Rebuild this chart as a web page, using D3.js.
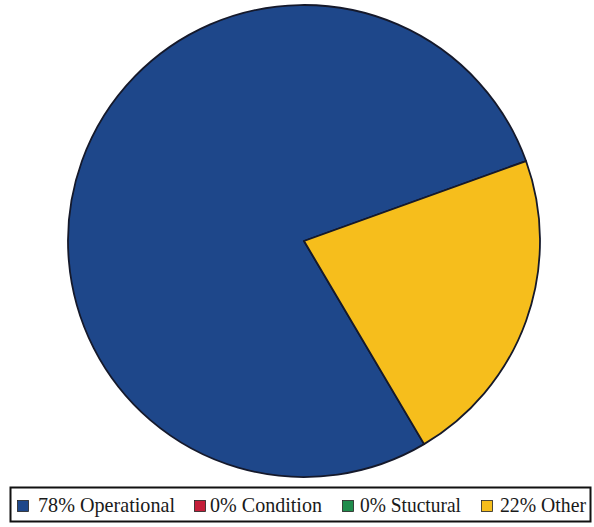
<!DOCTYPE html>
<html>
<head>
<meta charset="utf-8">
<script src="https://d3js.org/d3.v7.min.js"></script>
<style>
  body { margin: 0; background: #fff; }
  svg { display: block; }
</style>
</head>
<body>
<svg id="drawing_region"></svg>
<script>
// chart data
const categories = ['Operational', 'Condition', 'Stuctural', 'Other'];
const percents = [78, 0, 0, 22];
const colors = ['#1e478a', '#c41e3a', '#1f8c4c', '#f6be1c'];

class PieChart {

    constructor( config ) {
        this.config = config;
        this.init();
    }

    init() {
        let self = this;

        self.svg = d3.select( self.config.parent )
            .attr('width', self.config.width)
            .attr('height', self.config.height);

        self.chart = self.svg.append('g')
            .attr('transform', `translate(${self.config.cx}, ${self.config.cy})`);

        self.legend = self.svg.append('g');
    }

    render() {
        let self = this;

        // first slice starts at lower right, drawn clockwise
        const start = 149.4 * Math.PI / 180;
        const pie = d3.pie()
            .sort(null)
            .value( i => percents[i] )
            .startAngle(start)
            .endAngle(start + 2 * Math.PI);

        const arc = d3.arc()
            .innerRadius(0)
            .outerRadius(self.config.radius);

        self.chart.selectAll('path')
            .data( pie(d3.range(categories.length)).filter(d => d.value > 0) )
            .join('path')
            .attr('d', arc)
            .attr('fill', d => colors[d.data])
            .attr('stroke', '#15192b')
            .attr('stroke-width', 1.8)
            .attr('stroke-linejoin', 'round');

        // legend
        self.legend.append('rect')
            .attr('x', 10.5)
            .attr('y', 487.5)
            .attr('width', 580)
            .attr('height', 34)
            .attr('fill', '#fff')
            .attr('stroke', '#111')
            .attr('stroke-width', 2);

        const boxX = [17, 194, 342, 481];
        const textX = [38, 210, 360, 500];
        const textW = [137, 112, 101, 86];

        const items = self.legend.selectAll('g.item')
            .data(d3.range(categories.length))
            .join('g')
            .attr('class', 'item');

        items.append('rect')
            .attr('x', i => boxX[i] + 0.5)
            .attr('y', 500.5)
            .attr('width', 11)
            .attr('height', 11)
            .attr('fill', i => colors[i])
            .attr('stroke', '#222')
            .attr('stroke-width', 0.8);

        items.append('text')
            .attr('x', i => textX[i])
            .attr('y', 512)
            .attr('textLength', i => textW[i])
            .attr('lengthAdjust', 'spacingAndGlyphs')
            .style('font-family', '"Liberation Serif", serif')
            .style('font-size', '21px')
            .style('fill', '#1a1a1a')
            .text(i => `${percents[i]}% ${categories[i]}`);
    }
}

let pie_chart = new PieChart({
    parent: '#drawing_region',
    width: 594,
    height: 527,
    cx: 304,
    cy: 241,
    radius: 236
});
pie_chart.render();
</script>
</body>
</html>
